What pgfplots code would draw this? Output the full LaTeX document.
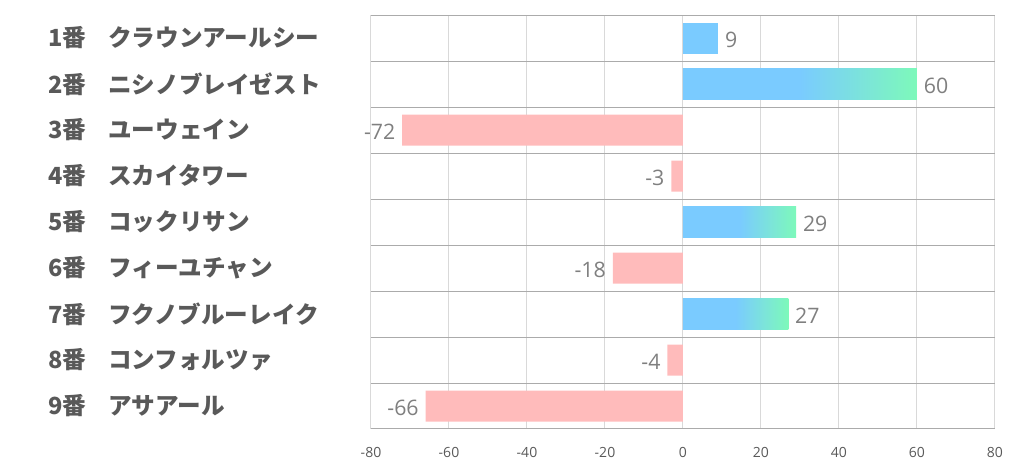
\documentclass[border=0pt]{standalone}
\usepackage{fontspec}
\setmainfont{Open Sans}
\newfontfamily\jp{Noto Sans CJK JP}
\usepackage{pgfplots}
\pgfplotsset{compat=1.18}
\definecolor{labelgray}{HTML}{595959}
\definecolor{valgray}{HTML}{7F7F7F}
\definecolor{hgray}{HTML}{ABABAB}
\definecolor{vgray}{HTML}{D9D9D9}
\definecolor{barblue}{HTML}{7ACBFF}
\definecolor{bargreen}{HTML}{7DF9BA}
\definecolor{barpink}{HTML}{FFBBBB}
\pgfdeclarehorizontalshading{barshade}{100bp}{color(0bp)=(barblue); color(50bp)=(barblue); color(75bp)=(bargreen); color(100bp)=(bargreen)}
\pgfplotsset{
  posbar/.style={xbar, bar width=23.25pt, bar shift=0pt, draw=none, shade, shading=barshade,
    every node near coord/.append style={anchor=west, xshift=5pt, yshift=-1.5pt}},
  plainbar/.style={xbar, bar width=23.25pt, bar shift=0pt, draw=none, fill=barblue,
    every node near coord/.append style={anchor=west, xshift=5pt, yshift=-1.5pt}},
  negbar/.style={xbar, bar width=23.25pt, bar shift=0pt, draw=none, fill=barpink,
    every node near coord/.append style={anchor=east, xshift=-5pt, yshift=-1.5pt}},
}
\begin{document}
\begin{tikzpicture}
\useasboundingbox (0pt,0pt) rectangle (766.5pt,352.5pt);
\begin{axis}[
  at={(278.25pt,30.75pt)}, anchor=south west,
  scale only axis, width=468pt, height=310.5pt,
  xmin=-80, xmax=80, ymin=0.5, ymax=9.5, y dir=reverse,
  xtick={-80,-60,-40,-20,0,20,40,60,80},
  xticklabels={-80,-60,-40,-20,0,20,40,60,80},
  ytick={1,...,9},
  yticklabels={
    {\makebox[45pt][l]{1番}クラウンアールシー},
    {\makebox[45pt][l]{2番}ニシノブレイゼスト},
    {\makebox[45pt][l]{3番}ユーウェイン},
    {\makebox[45pt][l]{4番}スカイタワー},
    {\makebox[45pt][l]{5番}コックリサン},
    {\makebox[45pt][l]{6番}フィーユチャン},
    {\makebox[45pt][l]{7番}フクノブルーレイク},
    {\makebox[45pt][l]{8番}コンフォルツァ},
    {\makebox[45pt][l]{9番}アサアール}},
  minor ytick={0.5,1.5,...,9.5},
  yminorgrids, xmajorgrids, ymajorgrids=false,
  minor grid style={draw=hgray, line width=0.75pt},
  major grid style={draw=vgray, line width=0.75pt},
  axis line style={draw=none},
  major tick length=0pt, minor tick length=0pt,
  tick style={draw=none},
  xticklabel style={font=\fontsize{10.5}{12}\selectfont, text=labelgray, inner sep=0pt, anchor=north, yshift=-13.5pt},
  yticklabel style={font=\jp\bfseries\fontsize{17.7}{20}\selectfont, text=labelgray, inner sep=0pt, anchor=west, xshift=-242.25pt},
  clip=false,
  nodes near coords,
  point meta=explicit symbolic,
  every node near coord/.append style={font=\fontsize{16}{18}\selectfont, text=valgray, inner sep=0pt},
]
\addplot[plainbar] coordinates {(9,1) [9]};
\addplot[posbar] coordinates {(60,2) [60]};
\addplot[posbar] coordinates {(29,5) [29]};
\addplot[posbar] coordinates {(27,7) [27]};
\addplot[negbar] coordinates {(-72,3) [-72] (-3,4) [-3] (-18,6) [-18] (-4,8) [-4] (-66,9) [-66]};
\end{axis}
\end{tikzpicture}
\end{document}
